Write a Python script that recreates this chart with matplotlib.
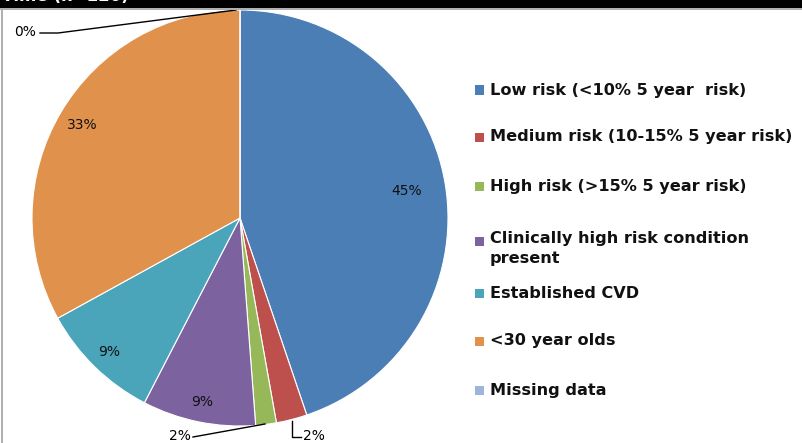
import matplotlib.pyplot as plt
import numpy as np
from matplotlib.patches import Rectangle

categories = ["Low risk (<10% 5 year  risk)", "Medium risk (10-15% 5 year risk)",
              "High risk (>15% 5 year risk)", "Clinically high risk condition\npresent",
              "Established CVD", "<30 year olds", "Missing data"]
values = [44.8, 2.4, 1.6, 8.8, 9.4, 33.0, 0.0]
labels = ["45%", "2%", "2%", "9%", "9%", "33%", "0%"]
colors = ["#4a7eb5", "#bd4f4c", "#97b858", "#7d62a0", "#4aa5bb", "#e0914c", "#9db5d8"]

W, H = 803, 443
fig = plt.figure(figsize=(W / 100, H / 100), dpi=100)
fig.patch.set_facecolor("white")

# pie placed in pixel space: centre (240,218), radius 208
cx, cy, r = 240, 218, 208
ax = fig.add_axes([(cx - r) / W, (H - cy - r) / H, 2 * r / W, 2 * r / H])
ax.pie(values, colors=colors, startangle=90, counterclock=False, radius=1,
       wedgeprops=dict(edgecolor="white", linewidth=0.8))
ax.set_xlim(-1, 1)
ax.set_ylim(-1, 1)
ax.axis("off")

# inside labels
cum = np.cumsum([0] + values[:-1])
mids = [(c + v / 2) / 100 * 2 * np.pi for c, v in zip(cum, values)]
dist = {0: 0.81, 3: 0.905, 4: 0.9, 5: 0.88}
for i, d in dist.items():
    a = mids[i]
    ax.text(d * np.sin(a), d * np.cos(a), labels[i], ha="center", va="center",
            fontsize=10, color="#111111")

def px(x, y):
    return ((x - cx) / r, (cy - y) / r)

# outside labels with leader lines
lk = dict(color="black", lw=1, clip_on=False)
p = [px(265, 424), px(193, 437), px(180, 437)]
ax.plot([q[0] for q in p[:2]], [q[1] for q in p[:2]], **lk)
ax.text(*px(191, 436), labels[2], ha="right", va="center", fontsize=10, clip_on=False)
p = [px(292, 421), px(292, 437), px(301, 437)]
ax.plot([q[0] for q in p], [q[1] for q in p], **lk)
ax.text(*px(303, 436), labels[1], ha="left", va="center", fontsize=10, clip_on=False)
p = [px(236, 10), px(58, 33), px(40, 33)]
ax.plot([q[0] for q in p], [q[1] for q in p], **lk)
ax.text(*px(36, 32), labels[6], ha="right", va="center", fontsize=10, clip_on=False)

# legend drawn manually
rows = [90, 137, 186, 241, 293, 341, 390]
for lab, col, y in zip(categories, colors, rows):
    fig.patches.append(Rectangle((475 / W, (H - y - 4.5) / H), 9 / W, 9 / H,
                                 transform=fig.transFigure, facecolor=col, edgecolor="none"))
    fig.text(490 / W, (H - y) / H, lab, ha="left", va="top" if "\n" in lab else "center",
             fontsize=11.6, fontweight="bold", color="#111111", linespacing=1.4)
for t in fig.texts:
    if "\n" in t.get_text():
        t.set_position((490 / W, (H - 241 + 10) / H))

# black title bar (cropped) and frame lines
fig.patches.append(Rectangle((0, (H - 8) / H), 1, 8 / H, transform=fig.transFigure,
                             facecolor="black", edgecolor="none"))
fig.patches.append(Rectangle((0, (H - 10) / H), 1, 2 / H, transform=fig.transFigure,
                             facecolor="#b0b0b0", edgecolor="none"))
fig.patches.append(Rectangle((1 / W, 0), 1.5 / W, (H - 8) / H, transform=fig.transFigure,
                             facecolor="#b0b0b0", edgecolor="none"))
fig.text(2 / W, (H + 4) / H, "Time (n=120)", ha="left", va="center", fontsize=12,
         fontweight="bold", color="white")

fig.savefig("out.png", dpi=100)
